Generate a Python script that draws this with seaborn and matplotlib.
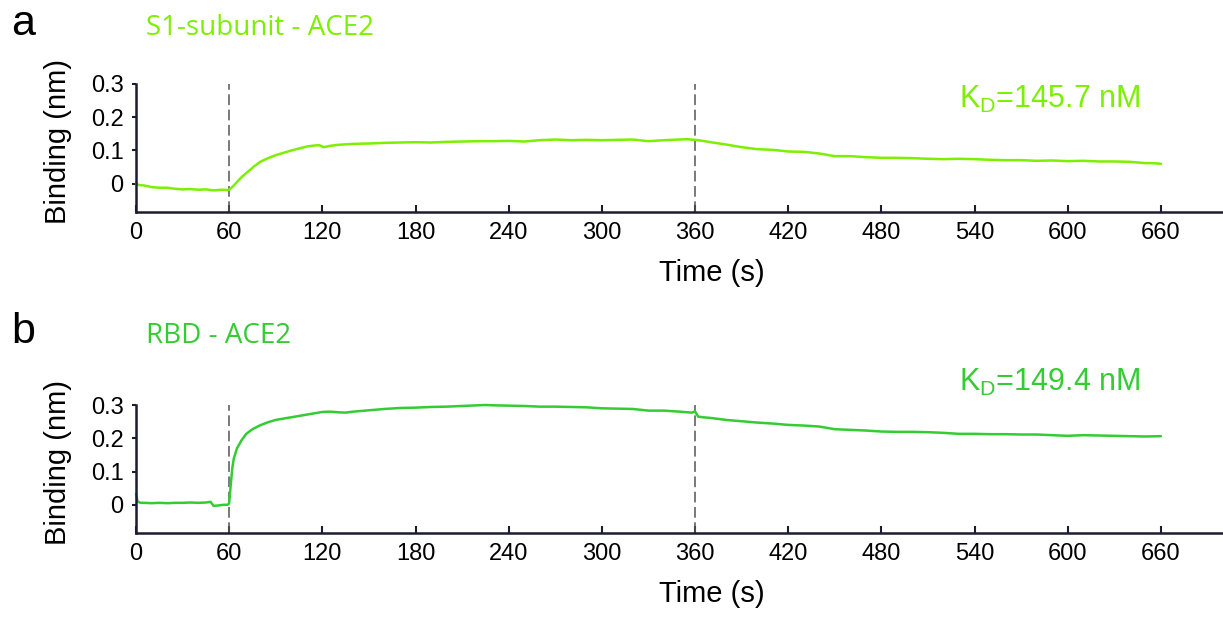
import matplotlib
matplotlib.use("Agg")
import matplotlib.pyplot as plt
import seaborn as sns

# panel a: S1-subunit binding to ACE2
time_a = [0, 2, 5, 10, 15, 20, 25, 30, 35, 40, 45, 50, 55, 59, 60, 62, 65, 68,
          72, 76, 80, 85, 90, 95, 100, 105, 110, 115, 118, 121, 125, 130, 140,
          150, 160, 170, 180, 190, 200, 210, 220, 230, 240, 250, 260, 270, 280,
          290, 300, 310, 320, 330, 340, 350, 355, 360, 365, 370, 380, 390, 400,
          410, 420, 430, 440, 450, 460, 470, 480, 490, 500, 510, 520, 530, 540,
          550, 560, 570, 580, 590, 600, 610, 620, 630, 640, 650, 655, 660]
binding_a = [0.000, -0.004, -0.005, -0.010, -0.012, -0.012, -0.015, -0.017,
             -0.016, -0.018, -0.017, -0.020, -0.018, -0.019, -0.018, -0.010,
             0.005, 0.020, 0.036, 0.052, 0.066, 0.077, 0.086, 0.093, 0.100,
             0.106, 0.112, 0.115, 0.116, 0.110, 0.114, 0.117, 0.120, 0.121,
             0.123, 0.124, 0.125, 0.124, 0.126, 0.127, 0.128, 0.128, 0.129,
             0.127, 0.131, 0.133, 0.131, 0.132, 0.131, 0.132, 0.133, 0.128,
             0.131, 0.133, 0.134, 0.132, 0.129, 0.125, 0.118, 0.110, 0.104,
             0.102, 0.097, 0.096, 0.091, 0.083, 0.083, 0.080, 0.078, 0.078,
             0.077, 0.075, 0.074, 0.075, 0.074, 0.072, 0.071, 0.071, 0.069,
             0.070, 0.068, 0.069, 0.067, 0.067, 0.066, 0.062, 0.062, 0.060]

# panel b: RBD binding to ACE2
time_b = [0, 1, 3, 5, 10, 15, 20, 25, 30, 35, 40, 45, 48, 50, 53, 56, 59, 60,
          61, 62, 63, 65, 68, 71, 75, 80, 85, 90, 95, 100, 105, 110, 115, 120,
          125, 130, 135, 140, 150, 160, 170, 180, 190, 200, 210, 220, 225, 230,
          240, 250, 260, 270, 280, 290, 300, 310, 320, 330, 340, 350, 355, 358,
          360, 362, 365, 370, 380, 390, 400, 410, 420, 430, 440, 450, 460, 470,
          480, 490, 500, 510, 520, 530, 540, 550, 560, 570, 580, 590, 600, 610,
          620, 630, 640, 650, 660]
binding_b = [0.033, 0.010, 0.006, 0.006, 0.005, 0.006, 0.005, 0.006, 0.006,
             0.007, 0.006, 0.007, 0.009, -0.003, -0.002, 0.000, 0.000, 0.005,
             0.060, 0.110, 0.140, 0.170, 0.195, 0.214, 0.228, 0.240, 0.249,
             0.256, 0.260, 0.264, 0.268, 0.272, 0.276, 0.280, 0.281, 0.279,
             0.278, 0.281, 0.285, 0.289, 0.292, 0.293, 0.295, 0.296, 0.298,
             0.300, 0.301, 0.300, 0.299, 0.298, 0.296, 0.296, 0.295, 0.294,
             0.291, 0.290, 0.289, 0.284, 0.284, 0.281, 0.279, 0.278, 0.282,
             0.266, 0.264, 0.262, 0.256, 0.252, 0.248, 0.245, 0.241, 0.239,
             0.236, 0.228, 0.226, 0.224, 0.221, 0.220, 0.220, 0.219, 0.217,
             0.214, 0.214, 0.213, 0.213, 0.212, 0.212, 0.210, 0.208, 0.210,
             0.209, 0.208, 0.207, 0.206, 0.207]

x_ticks = [0, 60, 120, 180, 240, 300, 360, 420, 480, 540, 600, 660]
y_ticks = [0, 0.1, 0.2, 0.3]
y_ticklabels = ["0", "0.1", "0.2", "0.3"]
phase_marks = [60, 360]

panels = [
    ("a", "S1-subunit - ACE2", r"K$_\mathrm{D}$=145.7 nM", time_a, binding_a, "#7cf000"),
    ("b", "RBD - ACE2", r"K$_\mathrm{D}$=149.4 nM", time_b, binding_b, "#33cc33"),
]

sns.set_style("ticks")
plt.rcParams["font.family"] = ["Liberation Sans", "DejaVu Sans"]
plt.rcParams["mathtext.fontset"] = "custom"
plt.rcParams["mathtext.rm"] = "Liberation Sans"
plt.rcParams["mathtext.it"] = "Liberation Sans"
plt.rcParams["text.color"] = "black"
plt.rcParams["axes.labelcolor"] = "black"
plt.rcParams["xtick.labelcolor"] = "black"
plt.rcParams["ytick.labelcolor"] = "black"

axis_col = "#1c1c30"
fig = plt.figure(figsize=(12.23, 6.19), dpi=100)

# axes boxes in figure fraction (left, bottom, width, height)
boxes = [(0.1112, 0.6575, 0.8888, 0.2068), (0.1112, 0.1389, 0.8888, 0.2063)]
label_base = [0.9435, 0.4459]
kd_y = [0.255, 0.37]

for i, (tag, title, kd, t, b, col) in enumerate(panels):
    ax = fig.add_axes(boxes[i])
    sns.lineplot(x=t, y=b, ax=ax, color=col, lw=1.8, clip_on=False)
    for m in phase_marks:
        ax.axvline(m, color="#555555", lw=1.1, linestyle=(0, (7, 3)), zorder=1)

    ax.set_xlim(0, 700)
    ax.set_ylim(-0.085, 0.3)
    ax.set_xticks(x_ticks)
    ax.set_yticks(y_ticks)
    ax.set_yticklabels(y_ticklabels)
    sns.despine(ax=ax)
    for s in ["left", "bottom"]:
        ax.spines[s].set_linewidth(1.8)
        ax.spines[s].set_color(axis_col)
    ax.tick_params(axis="x", direction="in", length=5, width=1.5, pad=7,
                   labelsize=17, color=axis_col)
    ax.tick_params(axis="y", direction="out", length=3, width=1.5, pad=6,
                   labelsize=17, color=axis_col)

    ax.set_xlabel("Time (s)", fontsize=21, va="center")
    ax.xaxis.set_label_coords(0.53, -0.48)
    ax.set_ylabel("Binding (nm)", fontsize=21, va="center")
    ax.yaxis.set_label_coords(-0.0718, 0.55)

    ax.text(530, kd_y[i], kd, fontsize=22, color=col, va="center", ha="left")

    fig.text(0.009, label_base[i], tag, fontsize=31, va="baseline", ha="left")
    fig.text(0.119, label_base[i], title, fontsize=20, color=col, va="baseline",
             ha="left", family=["Open Sans", "DejaVu Sans"])

fig.savefig("out.png", dpi=100)
